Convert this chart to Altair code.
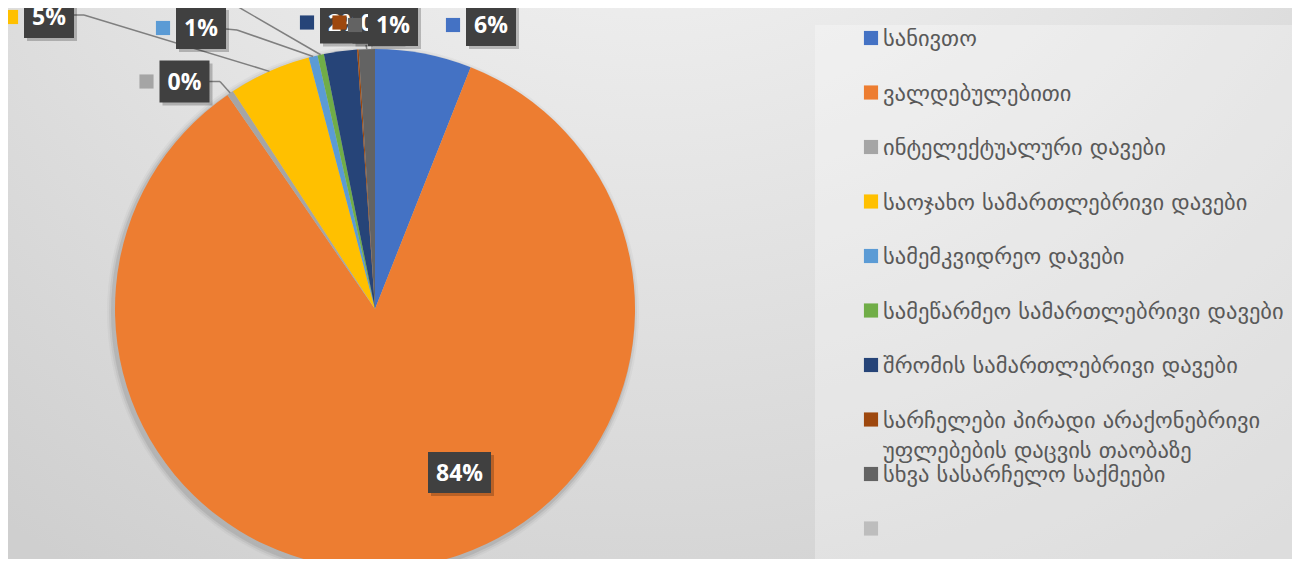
import altair as alt
import pandas as pd

# ---------------- data ----------------
CATEGORIES = [
    "სანივთო",
    "ვალდებულებითი",
    "ინტელექტუალური დავები",
    "საოჯახო სამართლებრივი დავები",
    "სამემკვიდრეო დავები",
    "სამეწარმეო სამართლებრივი დავები",
    "შრომის სამართლებრივი დავები",
    "სარჩელები პირადი არაქონებრივი უფლებების დაცვის თაობაზე",
    "სხვა სასარჩელო საქმეები",
    "",
]
VALUES = [6.0, 84.4, 0.4, 5.1, 0.55, 0.4, 2.05, 0.1, 1.0, 0.0]
COLORS = ["#4472C4", "#ED7D31", "#A5A5A5", "#FFC000", "#5B9BD5",
          "#70AD47", "#264478", "#9E480E", "#636363", "#BDBDBD"]

# ---------------- layout (reference pixel coordinates) ----------------
OFF = 8                      # page margin
W, H = 1300 - 2 * OFF, 567 - 2 * OFF
PIE_CX, PIE_CY, PIE_R = 375, 309, 260

LABEL_IDX = [0, 1, 2, 3, 4, 5, 6, 7, 8]
LABEL_CX = [491, 459.5, 184.5, 49, 201, 150, 345, 377.5, 393]
LABEL_CY = [25, 472.5, 81.5, 17, 28, -45, 22.5, 22.5, 25]
LABEL_KEY = [1, 0, 1, 1, 1, 1, 1, 1, 1]

LINE_IDX = [2, 3, 4, 5, 8]
LINE_X0 = [209, 74, 226, 175, 366]
LINE_Y0 = [81.5, 15, 29, -24, 45]
LINE_X1 = [220, 84, 237, 190, 366]
LINE_Y1 = [81.5, 15, 30, -21, 45]

LEGEND_X, LEGEND_TX, LEGEND_Y0, LEGEND_STEP = 871, 883, 38, 54.5

SHADOW_GROW = [2, 4, 6]
SHADOW_ALPHA = [0.08, 0.05, 0.03]

df = pd.DataFrame({"idx": list(range(len(CATEGORIES))), "cat": CATEGORIES, "value": VALUES})
lab = pd.DataFrame({"idx": LABEL_IDX, "bx": LABEL_CX, "by": LABEL_CY, "key": LABEL_KEY})
lin = pd.DataFrame({"idx": LINE_IDX, "lx0": LINE_X0, "ly0": LINE_Y0, "lx1": LINE_X1, "ly1": LINE_Y1})
df = df.merge(lab, on="idx", how="left").merge(lin, on="idx", how="left")

color = alt.Color("idx:N", scale=alt.Scale(domain=list(range(len(CATEGORIES))), range=COLORS), legend=None)
one = pd.DataFrame({"z": [0]})

# ---------------- background ----------------
bg = alt.Chart(one).mark_rect(
    color=alt.Gradient(
        gradient="radial",
        stops=[alt.GradientStop(color="#fbfbfb", offset=0),
               alt.GradientStop(color="#cfcfcf", offset=1)],
        x1=0.5, y1=0.0, r1=0.0, x2=0.5, y2=0.0, r2=0.85,
    )
).encode(x=alt.value(0), x2=alt.value(W), y=alt.value(0), y2=alt.value(H))

panel = alt.Chart(one).mark_rect(color="white", opacity=0.3).encode(
    x=alt.value(815 - OFF), x2=alt.value(W), y=alt.value(25 - OFF), y2=alt.value(H)
)

shadows = [
    alt.Chart(one).mark_arc(outerRadius=PIE_R + g, color="black", opacity=a).encode(
        theta=alt.value(0), theta2=alt.value(6.2832),
        x=alt.value(PIE_CX - OFF - 2), y=alt.value(PIE_CY - OFF + 3)
    )
    for g, a in zip(SHADOW_GROW, SHADOW_ALPHA)
]

pie = alt.Chart(df).mark_arc(outerRadius=PIE_R).encode(
    theta=alt.Theta("value:Q", stack=True),
    color=color,
    order=alt.Order("idx:Q", sort="ascending"),
    x=alt.value(PIE_CX - OFF), y=alt.value(PIE_CY - OFF),
)

# ---------------- derived positions ----------------
base = (
    alt.Chart(df)
    .transform_joinaggregate(total="sum(value)")
    .transform_window(cum="sum(value)", sort=[alt.SortField("idx", order="ascending")])
    .transform_calculate(mid="2*PI*(datum.cum - datum.value/2)/datum.total")
    .transform_calculate(ex=f"{PIE_CX - OFF} + {PIE_R}*sin(datum.mid)")
    .transform_calculate(ey=f"{PIE_CY - OFF} - {PIE_R}*cos(datum.mid)")
    .transform_calculate(pct="format(datum.value/datum.total, '.0%')")
    .transform_calculate(w="length(datum.pct) > 2 ? 63 : 50")
    .transform_calculate(h="length(datum.pct) > 2 ? 41 : 42")
    .transform_calculate(x0=f"datum.bx - datum.w/2 - {OFF}")
    .transform_calculate(x1=f"datum.bx + datum.w/2 - {OFF}")
    .transform_calculate(y0=f"datum.by - datum.h/2 - {OFF}")
    .transform_calculate(y1=f"datum.by + datum.h/2 - {OFF}")
    .transform_calculate(cx=f"datum.bx - {OFF}")
    .transform_calculate(cy=f"datum.by - {OFF}")
    .transform_calculate(kx=f"datum.bx - datum.w/2 - 13 - {OFF}")
    .transform_calculate(sx0="datum.x0 + 3")
    .transform_calculate(sx1="datum.x1 + 3")
    .transform_calculate(sy0="datum.y0 + 3")
    .transform_calculate(sy1="datum.y1 + 3")
    .transform_calculate(a0=f"datum.lx0 - {OFF}")
    .transform_calculate(b0=f"datum.ly0 - {OFF}")
    .transform_calculate(a1=f"datum.lx1 - {OFF}")
    .transform_calculate(b1=f"datum.ly1 - {OFF}")
)

lines_base = base.transform_filter("isValid(datum.lx0)")
seg1 = lines_base.mark_rule(color="#7f7f7f", strokeWidth=1.5).encode(
    x=alt.X("a0:Q", scale=None), y=alt.Y("b0:Q", scale=None), x2="a1:Q", y2="b1:Q"
)
seg2 = lines_base.mark_rule(color="#7f7f7f", strokeWidth=1.5).encode(
    x=alt.X("a1:Q", scale=None), y=alt.Y("b1:Q", scale=None), x2="ex:Q", y2="ey:Q"
)

label_layers = []
for i in LABEL_IDX:
    b = base.transform_filter(f"datum.idx == {i}")
    label_layers.append(
        b.transform_filter("datum.key == 1").mark_square(size=200, opacity=1).encode(
            x=alt.X("kx:Q", scale=None), y=alt.Y("cy:Q", scale=None), color=color)
    )
    label_layers.append(
        b.mark_rect(color="black", opacity=0.22).encode(
            x=alt.X("sx0:Q", scale=None), x2="sx1:Q", y=alt.Y("sy0:Q", scale=None), y2="sy1:Q")
    )
    label_layers.append(
        b.mark_rect(color="#404040").encode(
            x=alt.X("x0:Q", scale=None), x2="x1:Q", y=alt.Y("y0:Q", scale=None), y2="y1:Q")
    )
    label_layers.append(
        b.mark_text(font="Open Sans", fontWeight="bold", fontSize=23, color="white",
                    align="center", baseline="middle", dy=1).encode(
            x=alt.X("cx:Q", scale=None), y=alt.Y("cy:Q", scale=None), text="pct:N")
    )

# ---------------- legend ----------------
leg = alt.Chart(df).transform_calculate(
    ly=f"{LEGEND_Y0 - OFF} + {LEGEND_STEP}*datum.idx"
).transform_calculate(
    cut="lastindexof(slice(datum.cat, 0, 32), ' ')"
).transform_calculate(
    lines="length(datum.cat) > 32 ? [slice(datum.cat, 0, datum.cut), slice(datum.cat, datum.cut + 1)] : datum.cat"
)
leg_sq = leg.mark_square(size=200, opacity=1).encode(
    x=alt.value(LEGEND_X - OFF), y=alt.Y("ly:Q", scale=None), color=color
)
leg_tx = leg.mark_text(align="left", baseline="alphabetic", dy=8, font="DejaVu Sans",
                       fontSize=22.5, color="#595959", lineHeight=30).encode(
    x=alt.value(LEGEND_TX - OFF), y=alt.Y("ly:Q", scale=None), text="lines:N"
)

chart = alt.layer(
    bg, panel, *shadows, pie, seg1, seg2, *label_layers, leg_sq, leg_tx
).properties(
    width=W, height=H, padding=0, autosize=alt.AutoSizeParams(type="none")
).configure_view(stroke=None)

chart.save("out.html", embed_options={"renderer": "svg", "actions": False})
